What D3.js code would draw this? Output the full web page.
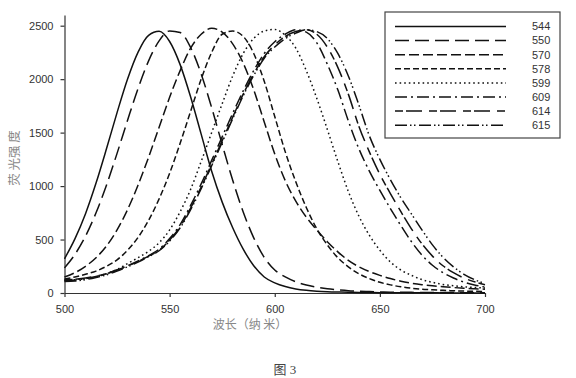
<!DOCTYPE html>
<html><head><meta charset="utf-8">
<script src="https://cdn.jsdelivr.net/npm/d3@7"></script>
<style>body{margin:0;background:#fff;} svg{display:block}</style>
</head><body><svg id="c" width="576" height="378"></svg>
<script>
const wavelengths = [500,505,510,515,520,525,530,535,540,545,550,555,560,565,570,575,580,585,590,595,600,605,610,615,620,625,630,635,640,645,650,655,660,665,670,675,680,685,690,695,700];
const seriesNames = ["544","550","570","578","599","609","614","615"];
const s544 = [320,509,742,1028,1351,1687,2001,2253,2410,2447,2352,2136,1833,1486,1139,850,610,410,255,150,95,60,38,25,17,12,9,7,5,4,3,3,2,2,2,2,1,1,1,1,1];
const s550 = [235,362,532,750,1011,1306,1616,1914,2171,2358,2451,2436,2296,2049,1733,1389,1054,758,516,333,215,150,105,75,55,40,30,22,17,13,10,8,7,6,5,5,4,4,3,3,3];
const s570 = [150,190,250,330,440,590,780,1010,1270,1550,1830,2080,2290,2420,2475,2440,2330,2150,1900,1600,1300,1050,860,710,590,480,385,305,245,200,165,135,110,92,78,67,58,51,45,40,36];
const s578 = [130,150,175,205,250,310,400,520,680,880,1120,1400,1700,2000,2250,2420,2450,2400,2240,1980,1650,1320,1040,800,600,450,330,245,180,135,100,76,58,45,36,30,25,21,18,16,14];
const s599 = [120,125,135,150,180,220,275,330,390,470,590,760,970,1230,1500,1770,2030,2240,2380,2450,2465,2410,2290,2080,1820,1530,1230,950,720,540,400,290,215,165,125,100,80,68,58,52,47];
const s609 = [115,120,135,155,180,215,255,300,350,410,510,640,820,1020,1240,1460,1680,1890,2080,2240,2350,2420,2462,2440,2340,2140,1900,1610,1350,1140,960,790,630,480,355,260,190,140,102,75,55];
const s614 = [125,128,140,158,182,215,252,295,345,400,495,620,795,990,1205,1425,1645,1860,2050,2210,2320,2400,2445,2462,2420,2300,2110,1860,1560,1320,1110,930,760,600,460,345,255,190,140,105,78];
const s615 = [108,112,125,145,170,205,245,290,340,395,485,610,780,975,1190,1410,1630,1845,2035,2195,2300,2380,2430,2462,2445,2380,2240,2030,1760,1470,1250,1060,890,740,590,450,335,245,175,125,88];
const xTicks = [500,550,600,650,700];
const yTicks = [0,500,1000,1500,2000,2500];
const xLabel = "波长（纳 米）";
const yLabel = "荧 光强 度";
const caption = "图 3";

const allSeries = [s544,s550,s570,s578,s599,s609,s614,s615];
const dashes = [null,"14,6","10,4","6,3","1.6,3","12,4,2,4","8,3,16,7","12,3,1.5,2.5,1.5,3.5"];

const svg = d3.select("#c");
const x = d3.scaleLinear().domain([500,700]).range([64.5,485]);
const y = d3.scaleLinear().domain([0,2600]).range([293,15]);

const fontNum = "Arial, 'Liberation Sans', sans-serif";
const gx = svg.append("g").attr("transform","translate(0,293)")
  .call(d3.axisBottom(x).tickValues(xTicks).tickFormat(d3.format("d")).tickSize(4).tickSizeOuter(0).tickPadding(8));
const gy = svg.append("g").attr("transform","translate(64.5,0)")
  .call(d3.axisLeft(y).tickValues(yTicks).tickFormat(d3.format("d")).tickSize(4).tickSizeOuter(0).tickPadding(7));
[gx,gy].forEach(g=>{
  g.selectAll("path,line").attr("stroke","#333").attr("stroke-width",1.2);
  g.selectAll("text").attr("font-family",fontNum).attr("font-size",11).attr("fill","#333");
});

const line = d3.line().x((d,i)=>x(wavelengths[i])).y(d=>y(d)).curve(d3.curveMonotoneX);
allSeries.forEach((s,k)=>{
  svg.append("path").datum(s).attr("d",line)
    .attr("fill","none").attr("stroke","#111").attr("stroke-width",1.5)
    .attr("stroke-dasharray",dashes[k]);
});

// legend
const lg = svg.append("g");
lg.append("rect").attr("x",385).attr("y",12).attr("width",175).attr("height",126)
  .attr("fill","#fff").attr("stroke","#444").attr("stroke-width",1.2);
seriesNames.forEach((n,k)=>{
  const yy = 26.5 + k*14.1;
  lg.append("line").attr("x1",395).attr("x2",506).attr("y1",yy).attr("y2",yy)
    .attr("stroke","#111").attr("stroke-width",1.5).attr("stroke-dasharray",dashes[k]);
  lg.append("text").attr("x",532).attr("y",yy).attr("dy","0.35em")
    .attr("font-family",fontNum).attr("font-size",11).attr("fill","#333").text(n);
});

svg.append("text").attr("x",250).attr("y",325).attr("dy","0.35em").attr("text-anchor","middle")
  .attr("font-family","'Noto Sans CJK SC', sans-serif").attr("font-size",12).attr("fill","#888")
  .style("white-space","pre").text(xLabel);
svg.append("text").attr("transform","translate(15,158) rotate(-90)").attr("dy","0.35em").attr("text-anchor","middle")
  .attr("font-family","'Noto Sans CJK SC', sans-serif").attr("font-size",12.5).attr("fill","#888")
  .style("white-space","pre").text(yLabel);
svg.append("text").attr("x",285).attr("y",369).attr("dy","0.35em").attr("text-anchor","middle")
  .attr("font-family","'Liberation Serif', 'Noto Sans CJK SC', serif").attr("font-size",13).attr("fill","#444")
  .style("white-space","pre").text(caption);
</script></body></html>
